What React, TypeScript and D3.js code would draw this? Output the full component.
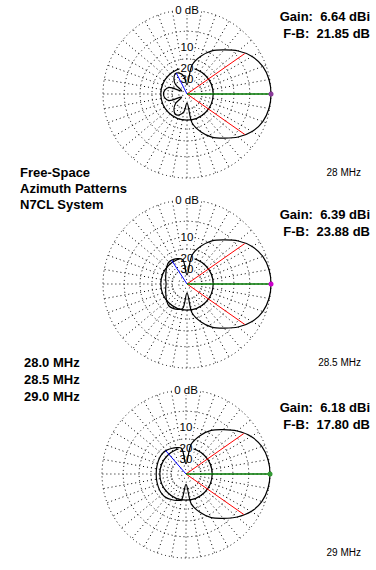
import React from "react";
import * as d3 from "d3";

const TITLE_LINES = ["Free-Space", "Azimuth Patterns", "N7CL System"];
const LEGEND_LINES = ["28.0 MHz", "28.5 MHz", "29.0 MHz"];
const FREQ_LABELS = ["28 MHz", "28.5 MHz", "29 MHz"];
const GAIN_LABELS = ["Gain:  6.64 dBi", "Gain:  6.39 dBi", "Gain:  6.18 dBi"];
const FB_LABELS = ["F-B:  21.85 dB", "F-B:  23.88 dB", "F-B:  17.80 dB"];
const RING_DB = [0, -5, -10, -15, -20, -30, -40, -50];
const SOLID_RING_DB = -20;
const RING_LABELS = ["0 dB", "10", "20", "30"];
const RING_LABEL_DB = [0, -10, -20, -30];
const RADIAL_ANGLES = d3.range(0, 360, 10);
const ANGLES = d3.range(0, 360, 10);

// relative dB, every 10 degrees counter-clockwise from east (0..350)
const PATTERN_28_0 = [0, -0.15, -0.7, -1.9, -3.9, -6.5, -9.0, -12.7, -18, -38, -26.2, -22.8, -21.9, -24.4, -29.4, -45, -25.4, -22.6, -21.85, -22.6, -25.4, -45, -29.4, -24.4, -21.9, -22.8, -26.2, -38, -18, -12.7, -9.0, -6.5, -3.9, -1.9, -0.7, -0.15];
const PATTERN_28_5 = [0, -0.15, -0.7, -1.9, -3.9, -6.5, -9.0, -12.7, -18, -38, -21, -19.5, -18.8, -18.6, -19.8, -21.3, -22.5, -23.3, -23.88, -23.3, -22.5, -21.3, -19.8, -18.6, -18.8, -19.5, -21, -38, -18, -12.7, -9.0, -6.5, -3.9, -1.9, -0.7, -0.15];
const PATTERN_29_0 = [0, -0.15, -0.7, -1.9, -3.9, -6.4, -8.8, -12.4, -17.5, -36, -20, -18.8, -18, -17.2, -17.0, -17.2, -17.5, -17.7, -17.8, -17.7, -17.5, -17.2, -17.0, -17.2, -18, -18.8, -20, -36, -17.5, -12.4, -8.8, -6.4, -3.9, -1.9, -0.7, -0.15];
const PATTERNS = [PATTERN_28_0, PATTERN_28_5, PATTERN_29_0];
const BEAM_HALF = [35, 35, 35];
const REAR_ANGLE = [117, 123, 131];
const REAR_DB = [-21.9, -18.7, -17.1];
const MAX_DOT = ["#8a3a9a", "#cc00cc", "#339933"];

const RMAX = 84;
const CENTERS = [
  [187, 94],
  [187, 284],
  [186, 474],
];
const TEXT_Y = [20.5, 218.5, 411.5];
const FREQ_Y = [175.5, 365.5, 555.5];

const rScale = d3.scalePow().exponent(0.2531).domain([0, 1]).range([0, RMAX]);
const rOf = (db: number) => rScale(Math.pow(10, db / 10));
const toRad = (deg: number) => (deg * Math.PI) / 180;

const FONT = "'Liberation Sans', Arial, sans-serif";

function Polar({ idx }: { idx: number }) {
  const [cx, cy] = CENTERS[idx];
  const data = PATTERNS[idx].map((db, i) => ({ a: ANGLES[i], r: rOf(db) }));
  const line = d3
    .lineRadial<{ a: number; r: number }>()
    .angle((d) => Math.PI / 2 - toRad(d.a))
    .radius((d) => d.r)
    .curve(d3.curveCatmullRomClosed.alpha(0.5));
  const pt = (deg: number, r: number) => [r * Math.cos(toRad(deg)), -r * Math.sin(toRad(deg))];
  const rBeam = rOf(-3);
  const b1 = pt(BEAM_HALF[idx], rBeam);
  const b2 = pt(-BEAM_HALF[idx], rBeam);
  const rear = pt(REAR_ANGLE[idx], rOf(REAR_DB[idx]));
  return (
    <g transform={`translate(${cx},${cy})`}>
      {RING_DB.map((db) => (
        <circle key={db} r={rOf(db)} fill="none" stroke="#000" strokeWidth={1} strokeDasharray="1 3" />
      ))}
      {RADIAL_ANGLES.map((a) => {
        const [x1, y1] = pt(a, rOf(-30));
        const [x2, y2] = pt(a, RMAX);
        return <line key={a} x1={x1} y1={y1} x2={x2} y2={y2} stroke="#000" strokeWidth={1} strokeDasharray="1 3" />;
      })}
      <circle r={rOf(SOLID_RING_DB)} fill="none" stroke="#000" strokeWidth={1.2} />
      {RING_LABELS.map((t, i) => {
        const y = -rOf(RING_LABEL_DB[i]);
        const w = t.length * 6.5 + 2;
        return (
          <g key={t}>
            <rect x={-w / 2} y={y - 6} width={w} height={11} fill="#fff" />
            <text x={0} y={y + 4} textAnchor="middle" fontFamily={FONT} fontSize={11.5}>
              {t}
            </text>
          </g>
        );
      })}
      <path d={line(data) || ""} fill="none" stroke="#000" strokeWidth={1.2} />
      <line x1={0} y1={0} x2={b1[0]} y2={b1[1]} stroke="#ff0000" strokeWidth={1} />
      <line x1={0} y1={0} x2={b2[0]} y2={b2[1]} stroke="#ff0000" strokeWidth={1} />
      <line x1={0} y1={0} x2={rear[0]} y2={rear[1]} stroke="#0000ff" strokeWidth={1} />
      <line x1={0} y1={0} x2={RMAX} y2={0} stroke="#007700" strokeWidth={1.5} />
      <circle cx={RMAX} cy={0} r={2.5} fill={MAX_DOT[idx]} />
    </g>
  );
}

export default function App() {
  return (
    <svg width={376} height={570} style={{ position: "absolute", left: 0, top: 0, background: "#fff" }}>
      <rect width={376} height={570} fill="#fff" />
      {[0, 1, 2].map((i) => (
        <Polar key={i} idx={i} />
      ))}
      {[0, 1, 2].map((i) => (
        <g key={"t" + i} fontFamily={FONT} fontWeight="bold" fontSize={13}>
          <text x={370} y={TEXT_Y[i]} textAnchor="end" xmlSpace="preserve">
            {GAIN_LABELS[i]}
          </text>
          <text x={370} y={TEXT_Y[i] + 17} textAnchor="end" xmlSpace="preserve">
            {FB_LABELS[i]}
          </text>
        </g>
      ))}
      {FREQ_LABELS.map((f, i) => (
        <text key={f} x={361} y={FREQ_Y[i]} textAnchor="end" fontFamily={FONT} fontSize={10}>
          {f}
        </text>
      ))}
      {TITLE_LINES.map((t, i) => (
        <text key={t} x={20} y={177 + i * 16} fontFamily={FONT} fontWeight="bold" fontSize={13}>
          {t}
        </text>
      ))}
      {LEGEND_LINES.map((t, i) => (
        <text key={t} x={24} y={367 + i * 17} fontFamily={FONT} fontWeight="bold" fontSize={13}>
          {t}
        </text>
      ))}
    </svg>
  );
}
